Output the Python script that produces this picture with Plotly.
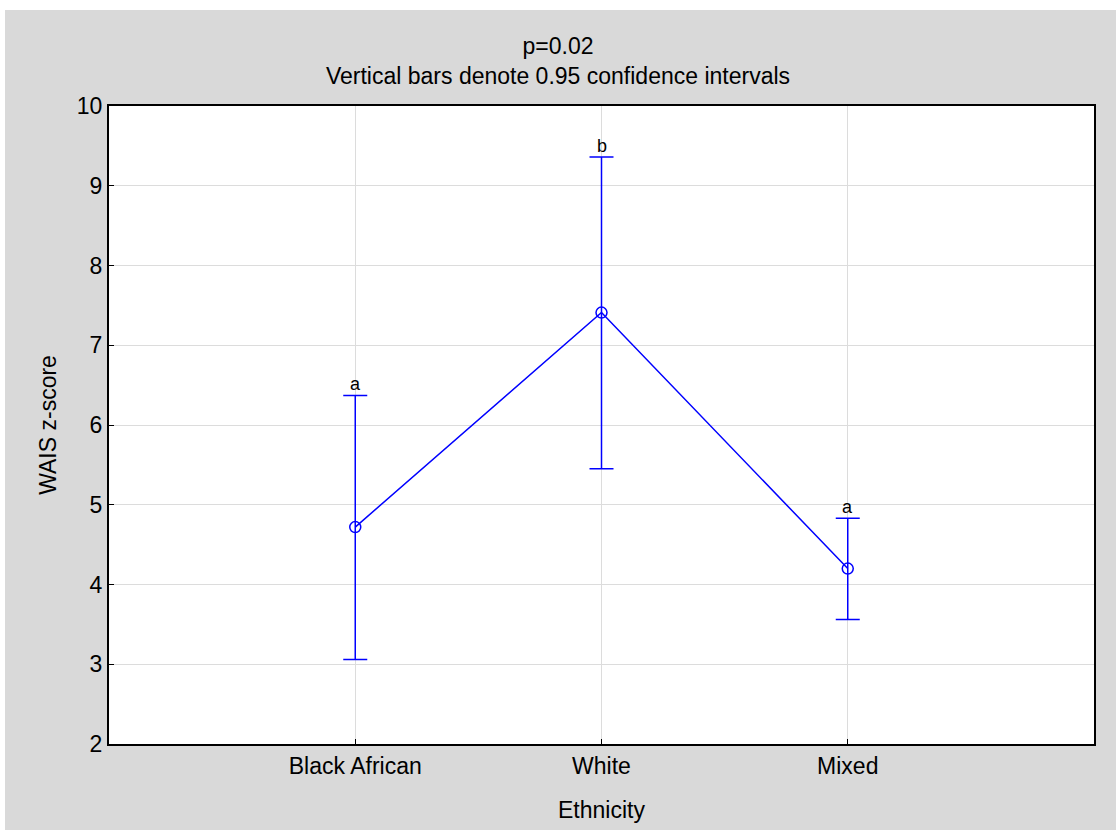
import plotly.graph_objects as go

categories = ["Black African", "White", "Mixed"]
means = [4.72, 7.41, 4.20]
upper = [6.37, 9.36, 4.83]
lower = [3.06, 5.45, 3.56]
letters = ["a", "b", "a"]
y_ticks = [2, 3, 4, 5, 6, 7, 8, 9, 10]

xpos = list(range(len(categories)))
err_plus = [u - m for u, m in zip(upper, means)]
err_minus = [m - l for m, l in zip(means, lower)]

W, H = 1116, 830
L, R, T, B = 109, 22, 106, 86
pw, ph = W - L - R, H - T - B
FONT = "Liberation Sans, Arial"
FS = 23

fig = go.Figure()
fig.add_trace(go.Scatter(
    x=xpos, y=means, mode="lines+markers",
    line=dict(color="#0000ff", width=1.5),
    marker=dict(symbol="circle-open", size=11, color="#0000ff", line=dict(width=1.5)),
    error_y=dict(type="data", symmetric=False, array=err_plus, arrayminus=err_minus,
                 color="#0000ff", thickness=1.5, width=12),
    showlegend=False,
))

for x, u, t in zip(xpos, upper, letters):
    fig.add_annotation(x=x, y=u, text=t, showarrow=False, yanchor="bottom", yshift=-1,
                       font=dict(size=18, color="black", family=FONT))

# grey backdrop and white plot area
fig.add_shape(type="rect", xref="paper", yref="paper",
              x0=(5 - L) / pw, x1=(W - L) / pw + 0.01,
              y0=-(B + 5) / ph, y1=(H - 10 - B) / ph,
              fillcolor="#d9d9d9", line=dict(width=0), layer="below")
fig.add_shape(type="rect", xref="paper", yref="paper",
              x0=0, x1=1, y0=0, y1=1,
              fillcolor="white", line=dict(width=0), layer="below")

fig.update_layout(
    width=W, height=H,
    margin=dict(l=L, r=R, t=T, b=B),
    paper_bgcolor="white", plot_bgcolor="white",
    font=dict(family=FONT, size=FS, color="black"),
    title=dict(text="p=0.02<br>Vertical bars denote 0.95 confidence intervals",
               x=0.5, xanchor="center", y=1 - 54 / H, yanchor="middle",
               font=dict(size=FS)),
    xaxis=dict(range=[-1, 3], tickvals=xpos, ticktext=categories,
               showgrid=True, gridcolor="#dcdcdc", gridwidth=1,
               showline=True, linecolor="black", linewidth=2, mirror=True,
               ticks="inside", ticklen=5, tickcolor="black", zeroline=False,
               title=dict(text="Ethnicity", standoff=24, font=dict(size=FS)),
               tickfont=dict(size=FS)),
    yaxis=dict(range=[2, 10], tickvals=y_ticks,
               showgrid=True, gridcolor="#dcdcdc", gridwidth=1,
               showline=True, linecolor="black", linewidth=2, mirror=True,
               ticks="inside", ticklen=5, tickcolor="black", zeroline=False,
               title=dict(text="WAIS z-score", standoff=14, font=dict(size=FS)),
               tickfont=dict(size=FS)),
)

fig.write_html("out.html")
